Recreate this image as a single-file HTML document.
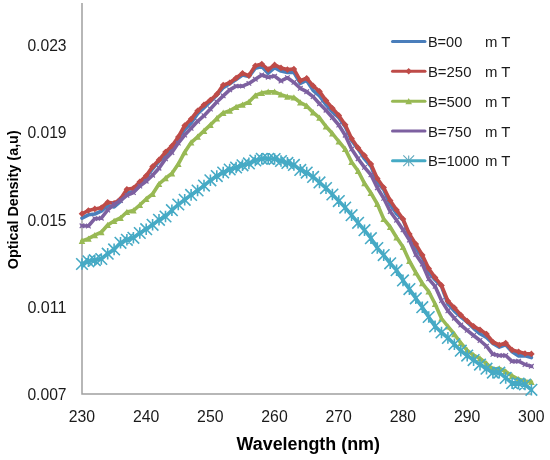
<!DOCTYPE html>
<html><head><meta charset="utf-8"><style>
html,body{margin:0;padding:0;background:#fff;}
body{width:550px;height:460px;overflow:hidden;font-family:"Liberation Sans",sans-serif;}
svg{display:block;filter:blur(0.35px);}
</style></head><body>
<svg width="550" height="460" viewBox="0 0 550 460">
<path d="M82,3 L82,394 L532,394" fill="none" stroke="#A0A0A0" stroke-width="1.5"/>
<path d="M82.0,218.1 L88.4,214.8 L94.8,214.0 L101.3,211.1 L107.7,205.6 L114.1,206.9 L120.5,201.3 L126.9,192.5 L133.4,191.7 L139.8,185.7 L146.2,177.5 L152.6,168.8 L159.0,161.4 L165.5,155.9 L171.9,149.5 L178.3,138.2 L184.7,129.6 L191.1,123.1 L197.6,113.7 L204.0,107.7 L210.4,101.4 L216.8,95.2 L223.2,87.7 L229.7,83.8 L236.1,79.5 L242.5,75.0 L248.9,76.6 L255.3,68.2 L261.8,66.4 L268.2,73.2 L274.6,67.7 L281.0,71.1 L287.4,72.4 L293.9,72.3 L300.3,83.3 L306.7,80.4 L313.1,90.3 L319.5,95.9 L326.0,104.6 L332.4,111.8 L338.8,117.6 L345.2,126.6 L351.6,140.4 L358.1,149.1 L364.5,158.9 L370.9,166.2 L377.3,182.1 L383.7,189.6 L390.2,204.5 L396.6,213.6 L403.0,219.9 L409.4,235.6 L415.8,247.9 L422.3,257.4 L428.7,272.5 L435.1,279.8 L441.5,286.5 L447.9,303.9 L454.4,311.1 L460.8,316.8 L467.2,322.2 L473.6,328.3 L480.0,333.8 L486.5,337.5 L492.9,343.5 L499.3,347.1 L505.7,344.8 L512.1,351.7 L518.6,355.9 L525.0,355.8 L531.4,357.6" fill="none" stroke="#4A7EBB" stroke-width="3.6" stroke-linejoin="round" stroke-linecap="round"/>
<path d="M82.0,213.8 L88.4,210.5 L94.8,208.9 L101.3,207.7 L107.7,202.2 L114.1,203.3 L120.5,199.0 L126.9,189.3 L133.4,188.2 L139.8,181.7 L146.2,175.8 L152.6,166.6 L159.0,159.9 L165.5,152.1 L171.9,146.1 L178.3,137.0 L184.7,125.5 L191.1,119.1 L197.6,110.7 L204.0,104.8 L210.4,100.0 L216.8,94.3 L223.2,85.1 L229.7,82.7 L236.1,78.0 L242.5,73.3 L248.9,75.6 L255.3,65.7 L261.8,64.0 L268.2,69.5 L274.6,64.9 L281.0,67.9 L287.4,69.6 L293.9,69.0 L300.3,80.6 L306.7,78.2 L313.1,85.8 L319.5,91.4 L326.0,100.6 L332.4,108.2 L338.8,115.4 L345.2,124.8 L351.6,138.5 L358.1,147.9 L364.5,155.6 L370.9,164.0 L377.3,178.5 L383.7,187.5 L390.2,200.5 L396.6,210.0 L403.0,219.0 L409.4,234.0 L415.8,244.1 L422.3,255.0 L428.7,268.5 L435.1,277.6 L441.5,285.4 L447.9,301.0 L454.4,307.7 L460.8,315.0 L467.2,321.0 L473.6,326.3 L480.0,329.8 L486.5,334.1 L492.9,342.0 L499.3,345.0 L505.7,343.1 L512.1,350.0 L518.6,351.7 L525.0,353.5 L531.4,353.9" fill="none" stroke="#BE4B48" stroke-width="3.6" stroke-linejoin="round" stroke-linecap="round"/><path d="M82.0,210.5L85.3,213.8L82.0,217.1L78.7,213.8ZM88.4,207.2L91.7,210.5L88.4,213.8L85.1,210.5ZM94.8,205.6L98.1,208.9L94.8,212.2L91.5,208.9ZM101.3,204.4L104.6,207.7L101.3,211.0L98.0,207.7ZM107.7,198.9L111.0,202.2L107.7,205.5L104.4,202.2ZM114.1,200.0L117.4,203.3L114.1,206.6L110.8,203.3ZM120.5,195.7L123.8,199.0L120.5,202.3L117.2,199.0ZM126.9,186.0L130.2,189.3L126.9,192.6L123.6,189.3ZM133.4,184.9L136.7,188.2L133.4,191.5L130.1,188.2ZM139.8,178.4L143.1,181.7L139.8,185.0L136.5,181.7ZM146.2,172.5L149.5,175.8L146.2,179.1L142.9,175.8ZM152.6,163.3L155.9,166.6L152.6,169.9L149.3,166.6ZM159.0,156.6L162.3,159.9L159.0,163.2L155.7,159.9ZM165.5,148.8L168.8,152.1L165.5,155.4L162.2,152.1ZM171.9,142.8L175.2,146.1L171.9,149.4L168.6,146.1ZM178.3,133.7L181.6,137.0L178.3,140.3L175.0,137.0ZM184.7,122.2L188.0,125.5L184.7,128.8L181.4,125.5ZM191.1,115.8L194.4,119.1L191.1,122.4L187.8,119.1ZM197.6,107.4L200.9,110.7L197.6,114.0L194.3,110.7ZM204.0,101.5L207.3,104.8L204.0,108.1L200.7,104.8ZM210.4,96.7L213.7,100.0L210.4,103.3L207.1,100.0ZM216.8,91.0L220.1,94.3L216.8,97.6L213.5,94.3ZM223.2,81.8L226.5,85.1L223.2,88.4L219.9,85.1ZM229.7,79.4L233.0,82.7L229.7,86.0L226.4,82.7ZM236.1,74.7L239.4,78.0L236.1,81.3L232.8,78.0ZM242.5,70.0L245.8,73.3L242.5,76.6L239.2,73.3ZM248.9,72.3L252.2,75.6L248.9,78.9L245.6,75.6ZM255.3,62.4L258.6,65.7L255.3,69.0L252.0,65.7ZM261.8,60.7L265.1,64.0L261.8,67.3L258.5,64.0ZM268.2,66.2L271.5,69.5L268.2,72.8L264.9,69.5ZM274.6,61.6L277.9,64.9L274.6,68.2L271.3,64.9ZM281.0,64.6L284.3,67.9L281.0,71.2L277.7,67.9ZM287.4,66.3L290.7,69.6L287.4,72.9L284.1,69.6ZM293.9,65.7L297.2,69.0L293.9,72.3L290.6,69.0ZM300.3,77.3L303.6,80.6L300.3,83.9L297.0,80.6ZM306.7,74.9L310.0,78.2L306.7,81.5L303.4,78.2ZM313.1,82.5L316.4,85.8L313.1,89.1L309.8,85.8ZM319.5,88.1L322.8,91.4L319.5,94.7L316.2,91.4ZM326.0,97.3L329.3,100.6L326.0,103.9L322.7,100.6ZM332.4,104.9L335.7,108.2L332.4,111.5L329.1,108.2ZM338.8,112.1L342.1,115.4L338.8,118.7L335.5,115.4ZM345.2,121.5L348.5,124.8L345.2,128.1L341.9,124.8ZM351.6,135.2L354.9,138.5L351.6,141.8L348.3,138.5ZM358.1,144.6L361.4,147.9L358.1,151.2L354.8,147.9ZM364.5,152.3L367.8,155.6L364.5,158.9L361.2,155.6ZM370.9,160.7L374.2,164.0L370.9,167.3L367.6,164.0ZM377.3,175.2L380.6,178.5L377.3,181.8L374.0,178.5ZM383.7,184.2L387.0,187.5L383.7,190.8L380.4,187.5ZM390.2,197.2L393.5,200.5L390.2,203.8L386.9,200.5ZM396.6,206.7L399.9,210.0L396.6,213.3L393.3,210.0ZM403.0,215.7L406.3,219.0L403.0,222.3L399.7,219.0ZM409.4,230.7L412.7,234.0L409.4,237.3L406.1,234.0ZM415.8,240.8L419.1,244.1L415.8,247.4L412.5,244.1ZM422.3,251.7L425.6,255.0L422.3,258.3L419.0,255.0ZM428.7,265.2L432.0,268.5L428.7,271.8L425.4,268.5ZM435.1,274.3L438.4,277.6L435.1,280.9L431.8,277.6ZM441.5,282.1L444.8,285.4L441.5,288.7L438.2,285.4ZM447.9,297.7L451.2,301.0L447.9,304.3L444.6,301.0ZM454.4,304.4L457.7,307.7L454.4,311.0L451.1,307.7ZM460.8,311.7L464.1,315.0L460.8,318.3L457.5,315.0ZM467.2,317.7L470.5,321.0L467.2,324.3L463.9,321.0ZM473.6,323.0L476.9,326.3L473.6,329.6L470.3,326.3ZM480.0,326.5L483.3,329.8L480.0,333.1L476.7,329.8ZM486.5,330.8L489.8,334.1L486.5,337.4L483.2,334.1ZM492.9,338.7L496.2,342.0L492.9,345.3L489.6,342.0ZM499.3,341.7L502.6,345.0L499.3,348.3L496.0,345.0ZM505.7,339.8L509.0,343.1L505.7,346.4L502.4,343.1ZM512.1,346.7L515.4,350.0L512.1,353.3L508.8,350.0ZM518.6,348.4L521.9,351.7L518.6,355.0L515.3,351.7ZM525.0,350.2L528.3,353.5L525.0,356.8L521.7,353.5ZM531.4,350.6L534.7,353.9L531.4,357.2L528.1,353.9Z" fill="#BE4B48" stroke="none"/>
<path d="M82.0,240.9 L88.4,238.7 L94.8,235.2 L101.3,232.2 L107.7,225.0 L114.1,221.0 L120.5,218.0 L126.9,212.0 L133.4,210.6 L139.8,205.0 L146.2,199.0 L152.6,194.0 L159.0,184.0 L165.5,178.3 L171.9,173.4 L178.3,164.1 L184.7,152.2 L191.1,142.6 L197.6,136.8 L204.0,130.9 L210.4,124.9 L216.8,118.4 L223.2,112.9 L229.7,110.8 L236.1,107.0 L242.5,104.8 L248.9,102.0 L255.3,95.5 L261.8,92.9 L268.2,91.8 L274.6,91.8 L281.0,94.6 L287.4,96.7 L293.9,97.5 L300.3,102.5 L306.7,105.9 L313.1,112.4 L319.5,117.8 L326.0,126.5 L332.4,133.5 L338.8,141.5 L345.2,149.1 L351.6,162.0 L358.1,171.0 L364.5,183.3 L370.9,193.0 L377.3,204.0 L383.7,219.0 L390.2,227.0 L396.6,237.5 L403.0,247.0 L409.4,261.0 L415.8,272.5 L422.3,283.3 L428.7,291.5 L435.1,304.0 L441.5,318.5 L447.9,326.5 L454.4,334.2 L460.8,343.0 L467.2,350.4 L473.6,355.2 L480.0,358.5 L486.5,363.5 L492.9,369.0 L499.3,368.5 L505.7,371.5 L512.1,375.9 L518.6,379.3 L525.0,381.1 L531.4,382.0" fill="none" stroke="#98B954" stroke-width="3.6" stroke-linejoin="round" stroke-linecap="round"/><path d="M82.0,237.6L85.3,243.9L78.7,243.9ZM88.4,235.4L91.7,241.7L85.1,241.7ZM94.8,231.9L98.1,238.2L91.5,238.2ZM101.3,228.9L104.6,235.2L98.0,235.2ZM107.7,221.7L111.0,228.0L104.4,228.0ZM114.1,217.7L117.4,224.0L110.8,224.0ZM120.5,214.7L123.8,221.0L117.2,221.0ZM126.9,208.7L130.2,215.0L123.6,215.0ZM133.4,207.3L136.7,213.6L130.1,213.6ZM139.8,201.7L143.1,208.0L136.5,208.0ZM146.2,195.7L149.5,202.0L142.9,202.0ZM152.6,190.7L155.9,197.0L149.3,197.0ZM159.0,180.7L162.3,187.0L155.7,187.0ZM165.5,175.0L168.8,181.3L162.2,181.3ZM171.9,170.1L175.2,176.4L168.6,176.4ZM178.3,160.8L181.6,167.1L175.0,167.1ZM184.7,148.9L188.0,155.2L181.4,155.2ZM191.1,139.3L194.4,145.6L187.8,145.6ZM197.6,133.5L200.9,139.8L194.3,139.8ZM204.0,127.6L207.3,133.9L200.7,133.9ZM210.4,121.6L213.7,127.9L207.1,127.9ZM216.8,115.1L220.1,121.4L213.5,121.4ZM223.2,109.6L226.5,115.9L219.9,115.9ZM229.7,107.5L233.0,113.8L226.4,113.8ZM236.1,103.7L239.4,110.0L232.8,110.0ZM242.5,101.5L245.8,107.8L239.2,107.8ZM248.9,98.7L252.2,105.0L245.6,105.0ZM255.3,92.2L258.6,98.5L252.0,98.5ZM261.8,89.6L265.1,95.9L258.5,95.9ZM268.2,88.5L271.5,94.8L264.9,94.8ZM274.6,88.5L277.9,94.8L271.3,94.8ZM281.0,91.3L284.3,97.6L277.7,97.6ZM287.4,93.4L290.7,99.7L284.1,99.7ZM293.9,94.2L297.2,100.5L290.6,100.5ZM300.3,99.2L303.6,105.5L297.0,105.5ZM306.7,102.6L310.0,108.9L303.4,108.9ZM313.1,109.1L316.4,115.4L309.8,115.4ZM319.5,114.5L322.8,120.8L316.2,120.8ZM326.0,123.2L329.3,129.5L322.7,129.5ZM332.4,130.2L335.7,136.5L329.1,136.5ZM338.8,138.2L342.1,144.5L335.5,144.5ZM345.2,145.8L348.5,152.1L341.9,152.1ZM351.6,158.7L354.9,165.0L348.3,165.0ZM358.1,167.7L361.4,174.0L354.8,174.0ZM364.5,180.0L367.8,186.3L361.2,186.3ZM370.9,189.7L374.2,196.0L367.6,196.0ZM377.3,200.7L380.6,207.0L374.0,207.0ZM383.7,215.7L387.0,222.0L380.4,222.0ZM390.2,223.7L393.5,230.0L386.9,230.0ZM396.6,234.2L399.9,240.5L393.3,240.5ZM403.0,243.7L406.3,250.0L399.7,250.0ZM409.4,257.7L412.7,264.0L406.1,264.0ZM415.8,269.2L419.1,275.5L412.5,275.5ZM422.3,280.0L425.6,286.3L419.0,286.3ZM428.7,288.2L432.0,294.5L425.4,294.5ZM435.1,300.7L438.4,307.0L431.8,307.0ZM441.5,315.2L444.8,321.5L438.2,321.5ZM447.9,323.2L451.2,329.5L444.6,329.5ZM454.4,330.9L457.7,337.2L451.1,337.2ZM460.8,339.7L464.1,346.0L457.5,346.0ZM467.2,347.1L470.5,353.4L463.9,353.4ZM473.6,351.9L476.9,358.2L470.3,358.2ZM480.0,355.2L483.3,361.5L476.7,361.5ZM486.5,360.2L489.8,366.5L483.2,366.5ZM492.9,365.7L496.2,372.0L489.6,372.0ZM499.3,365.2L502.6,371.5L496.0,371.5ZM505.7,368.2L509.0,374.5L502.4,374.5ZM512.1,372.6L515.4,378.9L508.8,378.9ZM518.6,376.0L521.9,382.3L515.3,382.3ZM525.0,377.8L528.3,384.1L521.7,384.1ZM531.4,378.7L534.7,385.0L528.1,385.0Z" fill="#98B954" stroke="none"/>
<path d="M82.0,225.8 L88.4,226.0 L94.8,218.6 L101.3,218.2 L107.7,210.0 L114.1,204.3 L120.5,200.6 L126.9,195.4 L133.4,192.6 L139.8,186.1 L146.2,181.2 L152.6,175.2 L159.0,168.2 L165.5,158.9 L171.9,152.5 L178.3,143.1 L184.7,135.1 L191.1,128.3 L197.6,121.3 L204.0,115.7 L210.4,109.0 L216.8,102.0 L223.2,95.9 L229.7,89.9 L236.1,86.1 L242.5,86.1 L248.9,83.4 L255.3,79.2 L261.8,75.0 L268.2,77.2 L274.6,76.1 L281.0,81.0 L287.4,77.7 L293.9,82.4 L300.3,88.3 L306.7,91.7 L313.1,96.6 L319.5,103.7 L326.0,110.2 L332.4,117.5 L338.8,125.0 L345.2,135.2 L351.6,149.1 L358.1,158.7 L364.5,167.4 L370.9,174.8 L377.3,187.8 L383.7,198.3 L390.2,211.5 L396.6,220.2 L403.0,229.8 L409.4,240.0 L415.8,254.6 L422.3,264.1 L428.7,278.8 L435.1,286.3 L441.5,300.6 L447.9,310.8 L454.4,318.2 L460.8,325.0 L467.2,330.4 L473.6,335.5 L480.0,340.5 L486.5,346.2 L492.9,354.3 L499.3,355.5 L505.7,355.5 L512.1,361.4 L518.6,361.2 L525.0,364.5 L531.4,366.3" fill="none" stroke="#7D60A0" stroke-width="3.6" stroke-linejoin="round" stroke-linecap="round"/><path d="M79.7,223.5L84.3,228.1M79.7,228.1L84.3,223.5M86.1,223.7L90.7,228.3M86.1,228.3L90.7,223.7M92.5,216.3L97.1,220.9M92.5,220.9L97.1,216.3M99.0,215.9L103.6,220.5M99.0,220.5L103.6,215.9M105.4,207.7L110.0,212.3M105.4,212.3L110.0,207.7M111.8,202.0L116.4,206.6M111.8,206.6L116.4,202.0M118.2,198.3L122.8,202.9M118.2,202.9L122.8,198.3M124.6,193.1L129.2,197.7M124.6,197.7L129.2,193.1M131.1,190.3L135.7,194.9M131.1,194.9L135.7,190.3M137.5,183.8L142.1,188.4M137.5,188.4L142.1,183.8M143.9,178.9L148.5,183.5M143.9,183.5L148.5,178.9M150.3,172.9L154.9,177.5M150.3,177.5L154.9,172.9M156.7,165.9L161.3,170.5M156.7,170.5L161.3,165.9M163.2,156.6L167.8,161.2M163.2,161.2L167.8,156.6M169.6,150.2L174.2,154.8M169.6,154.8L174.2,150.2M176.0,140.8L180.6,145.4M176.0,145.4L180.6,140.8M182.4,132.8L187.0,137.4M182.4,137.4L187.0,132.8M188.8,126.0L193.4,130.6M188.8,130.6L193.4,126.0M195.3,119.0L199.9,123.6M195.3,123.6L199.9,119.0M201.7,113.4L206.3,118.0M201.7,118.0L206.3,113.4M208.1,106.7L212.7,111.3M208.1,111.3L212.7,106.7M214.5,99.7L219.1,104.3M214.5,104.3L219.1,99.7M220.9,93.6L225.5,98.2M220.9,98.2L225.5,93.6M227.4,87.6L232.0,92.2M227.4,92.2L232.0,87.6M233.8,83.8L238.4,88.4M233.8,88.4L238.4,83.8M240.2,83.8L244.8,88.4M240.2,88.4L244.8,83.8M246.6,81.1L251.2,85.7M246.6,85.7L251.2,81.1M253.0,76.9L257.6,81.5M253.0,81.5L257.6,76.9M259.5,72.7L264.1,77.3M259.5,77.3L264.1,72.7M265.9,74.9L270.5,79.5M265.9,79.5L270.5,74.9M272.3,73.8L276.9,78.4M272.3,78.4L276.9,73.8M278.7,78.7L283.3,83.3M278.7,83.3L283.3,78.7M285.1,75.4L289.7,80.0M285.1,80.0L289.7,75.4M291.6,80.1L296.2,84.7M291.6,84.7L296.2,80.1M298.0,86.0L302.6,90.6M298.0,90.6L302.6,86.0M304.4,89.4L309.0,94.0M304.4,94.0L309.0,89.4M310.8,94.3L315.4,98.9M310.8,98.9L315.4,94.3M317.2,101.4L321.8,106.0M317.2,106.0L321.8,101.4M323.7,107.9L328.3,112.5M323.7,112.5L328.3,107.9M330.1,115.2L334.7,119.8M330.1,119.8L334.7,115.2M336.5,122.7L341.1,127.3M336.5,127.3L341.1,122.7M342.9,132.9L347.5,137.5M342.9,137.5L347.5,132.9M349.3,146.8L353.9,151.4M349.3,151.4L353.9,146.8M355.8,156.4L360.4,161.0M355.8,161.0L360.4,156.4M362.2,165.1L366.8,169.7M362.2,169.7L366.8,165.1M368.6,172.5L373.2,177.1M368.6,177.1L373.2,172.5M375.0,185.5L379.6,190.1M375.0,190.1L379.6,185.5M381.4,196.0L386.0,200.6M381.4,200.6L386.0,196.0M387.9,209.2L392.5,213.8M387.9,213.8L392.5,209.2M394.3,217.9L398.9,222.5M394.3,222.5L398.9,217.9M400.7,227.5L405.3,232.1M400.7,232.1L405.3,227.5M407.1,237.7L411.7,242.3M407.1,242.3L411.7,237.7M413.5,252.3L418.1,256.9M413.5,256.9L418.1,252.3M420.0,261.8L424.6,266.4M420.0,266.4L424.6,261.8M426.4,276.5L431.0,281.1M426.4,281.1L431.0,276.5M432.8,284.0L437.4,288.6M432.8,288.6L437.4,284.0M439.2,298.3L443.8,302.9M439.2,302.9L443.8,298.3M445.6,308.5L450.2,313.1M445.6,313.1L450.2,308.5M452.1,315.9L456.7,320.5M452.1,320.5L456.7,315.9M458.5,322.7L463.1,327.3M458.5,327.3L463.1,322.7M464.9,328.1L469.5,332.7M464.9,332.7L469.5,328.1M471.3,333.2L475.9,337.8M471.3,337.8L475.9,333.2M477.7,338.2L482.3,342.8M477.7,342.8L482.3,338.2M484.2,343.9L488.8,348.5M484.2,348.5L488.8,343.9M490.6,352.0L495.2,356.6M490.6,356.6L495.2,352.0M497.0,353.2L501.6,357.8M497.0,357.8L501.6,353.2M503.4,353.2L508.0,357.8M503.4,357.8L508.0,353.2M509.8,359.1L514.4,363.7M509.8,363.7L514.4,359.1M516.3,358.9L520.9,363.5M516.3,363.5L520.9,358.9M522.7,362.2L527.3,366.8M522.7,366.8L527.3,362.2M529.1,364.0L533.7,368.6M529.1,368.6L533.7,364.0" fill="none" stroke="#7D60A0" stroke-width="1.2"/>
<path d="M82.0,264.0 L88.4,261.3 L94.8,260.2 L101.3,259.0 L107.7,253.7 L114.1,249.4 L120.5,242.8 L126.9,239.8 L133.4,237.8 L139.8,233.0 L146.2,229.2 L152.6,224.8 L159.0,219.8 L165.5,216.5 L171.9,210.2 L178.3,204.5 L184.7,199.8 L191.1,194.9 L197.6,190.5 L204.0,185.6 L210.4,180.3 L216.8,176.1 L223.2,172.5 L229.7,169.5 L236.1,167.5 L242.5,165.3 L248.9,163.4 L255.3,160.5 L261.8,158.8 L268.2,158.8 L274.6,159.0 L281.0,161.0 L287.4,162.9 L293.9,164.9 L300.3,169.9 L306.7,172.6 L313.1,176.9 L319.5,182.4 L326.0,188.1 L332.4,194.5 L338.8,201.1 L345.2,207.6 L351.6,215.2 L358.1,222.8 L364.5,230.2 L370.9,238.2 L377.3,248.0 L383.7,255.1 L390.2,263.3 L396.6,270.2 L403.0,280.4 L409.4,289.1 L415.8,298.3 L422.3,307.2 L428.7,317.0 L435.1,326.4 L441.5,332.5 L447.9,337.9 L454.4,344.2 L460.8,350.7 L467.2,355.6 L473.6,360.1 L480.0,364.6 L486.5,368.7 L492.9,372.6 L499.3,372.7 L505.7,377.9 L512.1,383.2 L518.6,383.5 L525.0,384.5 L531.4,389.8" fill="none" stroke="#46AAC5" stroke-width="3.6" stroke-linejoin="round" stroke-linecap="round"/><path d="M76.2,258.2L87.8,269.8M76.2,269.8L87.8,258.2M82.0,258.2L82.0,269.8M82.6,255.5L94.2,267.1M82.6,267.1L94.2,255.5M88.4,255.5L88.4,267.1M89.0,254.4L100.6,266.0M89.0,266.0L100.6,254.4M94.8,254.4L94.8,266.0M95.5,253.2L107.1,264.8M95.5,264.8L107.1,253.2M101.3,253.2L101.3,264.8M101.9,247.9L113.5,259.5M101.9,259.5L113.5,247.9M107.7,247.9L107.7,259.5M108.3,243.6L119.9,255.2M108.3,255.2L119.9,243.6M114.1,243.6L114.1,255.2M114.7,237.0L126.3,248.6M114.7,248.6L126.3,237.0M120.5,237.0L120.5,248.6M121.1,234.0L132.7,245.6M121.1,245.6L132.7,234.0M126.9,234.0L126.9,245.6M127.6,232.0L139.2,243.6M127.6,243.6L139.2,232.0M133.4,232.0L133.4,243.6M134.0,227.2L145.6,238.8M134.0,238.8L145.6,227.2M139.8,227.2L139.8,238.8M140.4,223.4L152.0,235.0M140.4,235.0L152.0,223.4M146.2,223.4L146.2,235.0M146.8,219.0L158.4,230.6M146.8,230.6L158.4,219.0M152.6,219.0L152.6,230.6M153.2,214.0L164.8,225.6M153.2,225.6L164.8,214.0M159.0,214.0L159.0,225.6M159.7,210.7L171.3,222.3M159.7,222.3L171.3,210.7M165.5,210.7L165.5,222.3M166.1,204.4L177.7,216.0M166.1,216.0L177.7,204.4M171.9,204.4L171.9,216.0M172.5,198.7L184.1,210.3M172.5,210.3L184.1,198.7M178.3,198.7L178.3,210.3M178.9,194.0L190.5,205.6M178.9,205.6L190.5,194.0M184.7,194.0L184.7,205.6M185.3,189.1L196.9,200.7M185.3,200.7L196.9,189.1M191.1,189.1L191.1,200.7M191.8,184.7L203.4,196.3M191.8,196.3L203.4,184.7M197.6,184.7L197.6,196.3M198.2,179.8L209.8,191.4M198.2,191.4L209.8,179.8M204.0,179.8L204.0,191.4M204.6,174.5L216.2,186.1M204.6,186.1L216.2,174.5M210.4,174.5L210.4,186.1M211.0,170.3L222.6,181.9M211.0,181.9L222.6,170.3M216.8,170.3L216.8,181.9M217.4,166.7L229.0,178.3M217.4,178.3L229.0,166.7M223.2,166.7L223.2,178.3M223.9,163.7L235.5,175.3M223.9,175.3L235.5,163.7M229.7,163.7L229.7,175.3M230.3,161.7L241.9,173.3M230.3,173.3L241.9,161.7M236.1,161.7L236.1,173.3M236.7,159.5L248.3,171.1M236.7,171.1L248.3,159.5M242.5,159.5L242.5,171.1M243.1,157.6L254.7,169.2M243.1,169.2L254.7,157.6M248.9,157.6L248.9,169.2M249.5,154.7L261.1,166.3M249.5,166.3L261.1,154.7M255.3,154.7L255.3,166.3M256.0,153.0L267.6,164.6M256.0,164.6L267.6,153.0M261.8,153.0L261.8,164.6M262.4,153.0L274.0,164.6M262.4,164.6L274.0,153.0M268.2,153.0L268.2,164.6M268.8,153.2L280.4,164.8M268.8,164.8L280.4,153.2M274.6,153.2L274.6,164.8M275.2,155.2L286.8,166.8M275.2,166.8L286.8,155.2M281.0,155.2L281.0,166.8M281.6,157.1L293.2,168.7M281.6,168.7L293.2,157.1M287.4,157.1L287.4,168.7M288.1,159.1L299.7,170.7M288.1,170.7L299.7,159.1M293.9,159.1L293.9,170.7M294.5,164.1L306.1,175.7M294.5,175.7L306.1,164.1M300.3,164.1L300.3,175.7M300.9,166.8L312.5,178.4M300.9,178.4L312.5,166.8M306.7,166.8L306.7,178.4M307.3,171.1L318.9,182.7M307.3,182.7L318.9,171.1M313.1,171.1L313.1,182.7M313.7,176.6L325.3,188.2M313.7,188.2L325.3,176.6M319.5,176.6L319.5,188.2M320.2,182.3L331.8,193.9M320.2,193.9L331.8,182.3M326.0,182.3L326.0,193.9M326.6,188.7L338.2,200.3M326.6,200.3L338.2,188.7M332.4,188.7L332.4,200.3M333.0,195.3L344.6,206.9M333.0,206.9L344.6,195.3M338.8,195.3L338.8,206.9M339.4,201.8L351.0,213.4M339.4,213.4L351.0,201.8M345.2,201.8L345.2,213.4M345.8,209.4L357.4,221.0M345.8,221.0L357.4,209.4M351.6,209.4L351.6,221.0M352.3,217.0L363.9,228.6M352.3,228.6L363.9,217.0M358.1,217.0L358.1,228.6M358.7,224.4L370.3,236.0M358.7,236.0L370.3,224.4M364.5,224.4L364.5,236.0M365.1,232.4L376.7,244.0M365.1,244.0L376.7,232.4M370.9,232.4L370.9,244.0M371.5,242.2L383.1,253.8M371.5,253.8L383.1,242.2M377.3,242.2L377.3,253.8M377.9,249.3L389.5,260.9M377.9,260.9L389.5,249.3M383.7,249.3L383.7,260.9M384.4,257.5L396.0,269.1M384.4,269.1L396.0,257.5M390.2,257.5L390.2,269.1M390.8,264.4L402.4,276.0M390.8,276.0L402.4,264.4M396.6,264.4L396.6,276.0M397.2,274.6L408.8,286.2M397.2,286.2L408.8,274.6M403.0,274.6L403.0,286.2M403.6,283.3L415.2,294.9M403.6,294.9L415.2,283.3M409.4,283.3L409.4,294.9M410.0,292.5L421.6,304.1M410.0,304.1L421.6,292.5M415.8,292.5L415.8,304.1M416.5,301.4L428.1,313.0M416.5,313.0L428.1,301.4M422.3,301.4L422.3,313.0M422.9,311.2L434.5,322.8M422.9,322.8L434.5,311.2M428.7,311.2L428.7,322.8M429.3,320.6L440.9,332.2M429.3,332.2L440.9,320.6M435.1,320.6L435.1,332.2M435.7,326.7L447.3,338.3M435.7,338.3L447.3,326.7M441.5,326.7L441.5,338.3M442.1,332.1L453.7,343.7M442.1,343.7L453.7,332.1M447.9,332.1L447.9,343.7M448.6,338.4L460.2,350.0M448.6,350.0L460.2,338.4M454.4,338.4L454.4,350.0M455.0,344.9L466.6,356.5M455.0,356.5L466.6,344.9M460.8,344.9L460.8,356.5M461.4,349.8L473.0,361.4M461.4,361.4L473.0,349.8M467.2,349.8L467.2,361.4M467.8,354.3L479.4,365.9M467.8,365.9L479.4,354.3M473.6,354.3L473.6,365.9M474.2,358.8L485.8,370.4M474.2,370.4L485.8,358.8M480.0,358.8L480.0,370.4M480.7,362.9L492.3,374.5M480.7,374.5L492.3,362.9M486.5,362.9L486.5,374.5M487.1,366.8L498.7,378.4M487.1,378.4L498.7,366.8M492.9,366.8L492.9,378.4M493.5,366.9L505.1,378.5M493.5,378.5L505.1,366.9M499.3,366.9L499.3,378.5M499.9,372.1L511.5,383.7M499.9,383.7L511.5,372.1M505.7,372.1L505.7,383.7M506.3,377.4L517.9,389.0M506.3,389.0L517.9,377.4M512.1,377.4L512.1,389.0M512.8,377.7L524.4,389.3M512.8,389.3L524.4,377.7M518.6,377.7L518.6,389.3M519.2,378.7L530.8,390.3M519.2,390.3L530.8,378.7M525.0,378.7L525.0,390.3M525.6,384.0L537.2,395.6M525.6,395.6L537.2,384.0M531.4,384.0L531.4,395.6" fill="none" stroke="#46AAC5" stroke-width="1.6"/>
<path d="M392.5,41.5 L425,41.5" stroke="#4A7EBB" stroke-width="3" stroke-linecap="round"/>
<path d="M392.5,71.3 L425,71.3" stroke="#BE4B48" stroke-width="3" stroke-linecap="round"/>
<path d="M408.7,68.0L412.0,71.3L408.7,74.6L405.4,71.3Z" fill="#BE4B48"/>
<path d="M392.5,101.2 L425,101.2" stroke="#98B954" stroke-width="3" stroke-linecap="round"/>
<path d="M408.7,97.9L412.0,104.2L405.4,104.2Z" fill="#98B954"/>
<path d="M392.5,131 L425,131" stroke="#7D60A0" stroke-width="3" stroke-linecap="round"/>
<path d="M392.5,160.8 L425,160.8" stroke="#46AAC5" stroke-width="3" stroke-linecap="round"/>
<path d="M403.3,155.4L414.1,166.2M403.3,166.2L414.1,155.4M408.7,155.4L408.7,166.2" stroke="#5FA8BC" stroke-width="1.1"/>
<text x="66.6" y="50.9" text-anchor="end" font-size="16" fill="#1a1a1a" textLength="39.2" lengthAdjust="spacingAndGlyphs" font-family="Liberation Sans, sans-serif">0.023</text>
<text x="66.6" y="138.1" text-anchor="end" font-size="16" fill="#1a1a1a" textLength="39.2" lengthAdjust="spacingAndGlyphs" font-family="Liberation Sans, sans-serif">0.019</text>
<text x="66.6" y="225.6" text-anchor="end" font-size="16" fill="#1a1a1a" textLength="39.2" lengthAdjust="spacingAndGlyphs" font-family="Liberation Sans, sans-serif">0.015</text>
<text x="66.6" y="312.9" text-anchor="end" font-size="16" fill="#1a1a1a" textLength="39.2" lengthAdjust="spacingAndGlyphs" font-family="Liberation Sans, sans-serif">0.011</text>
<text x="66.6" y="399.6" text-anchor="end" font-size="16" fill="#1a1a1a" textLength="39.2" lengthAdjust="spacingAndGlyphs" font-family="Liberation Sans, sans-serif">0.007</text>
<text x="68.7" y="422.2" font-size="16" fill="#1a1a1a" textLength="26.4" lengthAdjust="spacingAndGlyphs" font-family="Liberation Sans, sans-serif">230</text>
<text x="132.9" y="422.2" font-size="16" fill="#1a1a1a" textLength="26.4" lengthAdjust="spacingAndGlyphs" font-family="Liberation Sans, sans-serif">240</text>
<text x="197.1" y="422.2" font-size="16" fill="#1a1a1a" textLength="26.4" lengthAdjust="spacingAndGlyphs" font-family="Liberation Sans, sans-serif">250</text>
<text x="261.3" y="422.2" font-size="16" fill="#1a1a1a" textLength="26.4" lengthAdjust="spacingAndGlyphs" font-family="Liberation Sans, sans-serif">260</text>
<text x="325.5" y="422.2" font-size="16" fill="#1a1a1a" textLength="26.4" lengthAdjust="spacingAndGlyphs" font-family="Liberation Sans, sans-serif">270</text>
<text x="389.7" y="422.2" font-size="16" fill="#1a1a1a" textLength="26.4" lengthAdjust="spacingAndGlyphs" font-family="Liberation Sans, sans-serif">280</text>
<text x="453.9" y="422.2" font-size="16" fill="#1a1a1a" textLength="26.4" lengthAdjust="spacingAndGlyphs" font-family="Liberation Sans, sans-serif">290</text>
<text x="518.1" y="422.2" font-size="16" fill="#1a1a1a" textLength="26.4" lengthAdjust="spacingAndGlyphs" font-family="Liberation Sans, sans-serif">300</text>
<text x="236.5" y="450" font-size="18" font-weight="bold" fill="#000" textLength="143.5" lengthAdjust="spacingAndGlyphs" font-family="Liberation Sans, sans-serif">Wavelength (nm)</text>
<text transform="translate(18.3,269.3) rotate(-90)" x="0" y="0" font-size="14.5" font-weight="bold" fill="#000" textLength="139" lengthAdjust="spacingAndGlyphs" font-family="Liberation Sans, sans-serif">Optical Density (a,u)</text>
<text x="427.9" y="46.8" font-size="15.3" fill="#1a1a1a" textLength="34.4" lengthAdjust="spacingAndGlyphs" font-family="Liberation Sans, sans-serif">B=00</text>
<text x="485" y="46.8" font-size="15.3" fill="#1a1a1a" textLength="25.4" lengthAdjust="spacingAndGlyphs" font-family="Liberation Sans, sans-serif">m T</text>
<text x="427.9" y="76.9" font-size="15.3" fill="#1a1a1a" textLength="43.6" lengthAdjust="spacingAndGlyphs" font-family="Liberation Sans, sans-serif">B=250</text>
<text x="485" y="76.9" font-size="15.3" fill="#1a1a1a" textLength="25.4" lengthAdjust="spacingAndGlyphs" font-family="Liberation Sans, sans-serif">m T</text>
<text x="427.9" y="106.8" font-size="15.3" fill="#1a1a1a" textLength="43.6" lengthAdjust="spacingAndGlyphs" font-family="Liberation Sans, sans-serif">B=500</text>
<text x="485" y="106.8" font-size="15.3" fill="#1a1a1a" textLength="25.4" lengthAdjust="spacingAndGlyphs" font-family="Liberation Sans, sans-serif">m T</text>
<text x="427.9" y="136.6" font-size="15.3" fill="#1a1a1a" textLength="43.6" lengthAdjust="spacingAndGlyphs" font-family="Liberation Sans, sans-serif">B=750</text>
<text x="485" y="136.6" font-size="15.3" fill="#1a1a1a" textLength="25.4" lengthAdjust="spacingAndGlyphs" font-family="Liberation Sans, sans-serif">m T</text>
<text x="427.9" y="166.3" font-size="15.3" fill="#1a1a1a" textLength="51.4" lengthAdjust="spacingAndGlyphs" font-family="Liberation Sans, sans-serif">B=1000</text>
<text x="485" y="166.3" font-size="15.3" fill="#1a1a1a" textLength="25.4" lengthAdjust="spacingAndGlyphs" font-family="Liberation Sans, sans-serif">m T</text>
</svg>
</body></html>
